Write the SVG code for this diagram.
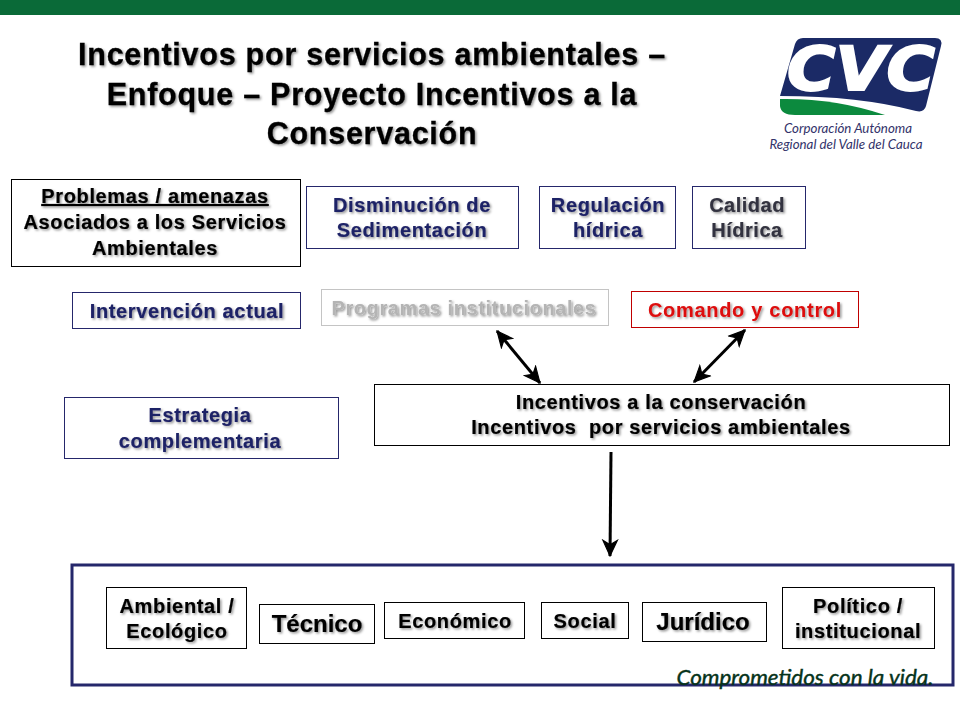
<svg xmlns="http://www.w3.org/2000/svg" width="960" height="720" viewBox="0 0 960 720">
<style>
text{font-family:"Liberation Sans",Arial,sans-serif;font-weight:700;text-anchor:middle;filter:url(#sh)}
.t{font-size:30.5px;fill:#000;stroke:#000;stroke-width:.3;letter-spacing:.75px}
.k{fill:#000;stroke:#000;stroke-width:.2;font-size:20px;letter-spacing:.65px}
.n{fill:#1f2266;stroke:#1f2266;stroke-width:.2;font-size:20px;letter-spacing:.65px}
.g{fill:#33333f;stroke:#33333f;stroke-width:.2;font-size:20px;letter-spacing:.5px}
.l{font-size:24px;fill:#000;stroke:#000;stroke-width:.2}
.b{fill:#fff;stroke:#000;stroke-width:1}
.bn{fill:#fff;stroke:#25276b;stroke-width:1}
.c{fill:none;stroke:#000;stroke-width:3}
.logo{font-family:"Lato","Open Sans",sans-serif;font-weight:400;font-style:italic;fill:#33336a;font-size:13.300px;filter:none}
</style>
<defs>
<filter id="sh" x="-5%" y="-20%" width="110%" height="150%"><feDropShadow dx="1.5" dy="1.5" stdDeviation="1.3" flood-color="#000" flood-opacity=".42"/></filter>
<marker id="a" viewBox="0 0 16 16" refX="15" refY="8" markerWidth="6" markerHeight="6" markerUnits="strokeWidth" orient="auto-start-reverse"><path d="M1 1.500L15 8L1 14.500L5 8Z" fill="#000" stroke="#000" stroke-width="1"/></marker>
</defs>
<rect width="960" height="720" fill="#fff"/>
<rect id="top-band" width="960" height="15" fill="#0a6a38"/>

<g id="title">
<text class="t" x="372" y="65">Incentivos por servicios ambientales –</text>
<text class="t" x="372" y="105">Enfoque – Proyecto Incentivos a la</text>
<text class="t" x="372" y="144">Conservación</text>
</g>

<g id="logo">
<path d="M803 38H935Q943 38 941 46L926 106Q924 113 916 111Q860 96 780 96L795 44Q797 38 803 38Z" fill="#1b2a66"/>
<path d="M780 99Q835 98 885 115H795Q781 115 780 106Z" fill="#0c8a3e"/>
<text x="861" y="90" style="font-family:'DejaVu Sans',sans-serif;font-size:60px;font-style:italic;fill:#fff;stroke:#fff;stroke-width:2;filter:none" textLength="148" lengthAdjust="spacingAndGlyphs">CVC</text>
<text class="logo" x="848" y="133">Corporación Autónoma</text>
<text class="logo" x="846" y="149">Regional del Valle del Cauca</text>
</g>

<g id="problemas">
<rect class="b" x="11.500" y="179.500" width="289" height="87"/>
<text class="k" x="155" y="203" text-decoration="underline">Problemas / amenazas</text>
<text class="k" x="155" y="229">Asociados a los Servicios</text>
<text class="k" x="155" y="255">Ambientales</text>
</g>
<g id="sedimentacion">
<rect class="bn" x="306.500" y="186.500" width="212" height="62"/>
<text class="n" x="412" y="212">Disminución de</text>
<text class="n" x="412" y="237">Sedimentación</text>
</g>
<g id="regulacion">
<rect class="bn" x="539.500" y="186.500" width="136" height="62"/>
<text class="n" x="608" y="212">Regulación</text>
<text class="n" x="608" y="237">hídrica</text>
</g>
<g id="calidad">
<rect class="bn" x="692.500" y="186.500" width="113" height="62"/>
<text class="g" x="747" y="212">Calidad</text>
<text class="g" x="747" y="237">Hídrica</text>
</g>
<g id="intervencion">
<rect class="bn" x="72.500" y="292.500" width="228" height="36"/>
<text class="n" x="187" y="318">Intervención actual</text>
</g>
<g id="programas">
<rect x="321.500" y="289.500" width="287" height="36" fill="#fff" stroke="#c4c4c4"/>
<text x="464" y="315" style="font-size:20px;fill:#b4b4b4;letter-spacing:.6px">Programas institucionales</text>
</g>
<g id="comando">
<rect x="631.500" y="291.500" width="227" height="36" fill="#fff" stroke="#c00000"/>
<text x="745" y="317" style="font-size:20px;fill:#dd0a0a;letter-spacing:.7px">Comando y control</text>
</g>
<g id="estrategia">
<rect class="bn" x="64.500" y="397.500" width="274" height="61"/>
<text class="n" x="200" y="422">Estrategia</text>
<text class="n" x="200" y="448">complementaria</text>
</g>
<g id="incentivos">
<rect class="b" x="374.500" y="384.500" width="575" height="61"/>
<text class="k" x="661" y="409">Incentivos a la conservación</text>
<text class="k" x="661" y="434" xml:space="preserve">Incentivos  por servicios ambientales</text>
</g>

<g id="connectors">
<line class="c" x1="497" y1="331" x2="540" y2="383" marker-start="url(#a)" marker-end="url(#a)"/>
<line class="c" x1="745" y1="330" x2="694" y2="382" marker-start="url(#a)" marker-end="url(#a)"/>
<line class="c" x1="611" y1="452" x2="610" y2="556" marker-end="url(#a)"/>
</g>

<g id="dimensiones">
<rect x="72" y="565" width="881" height="120" fill="#fff" stroke="#25276b" stroke-width="3"/>
</g>
<g id="ambiental">
<rect class="b" x="106.500" y="587.500" width="140" height="61"/>
<text class="k" x="177" y="613">Ambiental /</text>
<text class="k" x="177" y="638">Ecológico</text>
</g>
<g id="tecnico">
<rect class="b" x="259.500" y="604.500" width="115" height="39"/>
<text class="l" x="317" y="632">Técnico</text>
</g>
<g id="economico">
<rect class="b" x="384.500" y="602.500" width="140" height="36"/>
<text class="k" x="455" y="628">Económico</text>
</g>
<g id="social">
<rect class="b" x="541.500" y="602.500" width="87" height="36"/>
<text class="k" x="585" y="628">Social</text>
</g>
<g id="juridico">
<rect class="b" x="642.500" y="602.500" width="124" height="39"/>
<text class="l" x="703" y="630">Jurídico</text>
</g>
<g id="politico">
<rect class="b" x="782.500" y="587.500" width="152" height="61"/>
<text class="k" x="858" y="613">Político /</text>
<text class="k" x="858" y="638">institucional</text>
</g>
<text id="lema" x="805" y="685" style="font-family:Lato,'Open Sans',sans-serif;font-size:22px;font-weight:400;font-style:italic;fill:#06331a;stroke:#06331a;stroke-width:.4;filter:none" textLength="257" lengthAdjust="spacingAndGlyphs">Comprometidos con la vida.</text>
</svg>
